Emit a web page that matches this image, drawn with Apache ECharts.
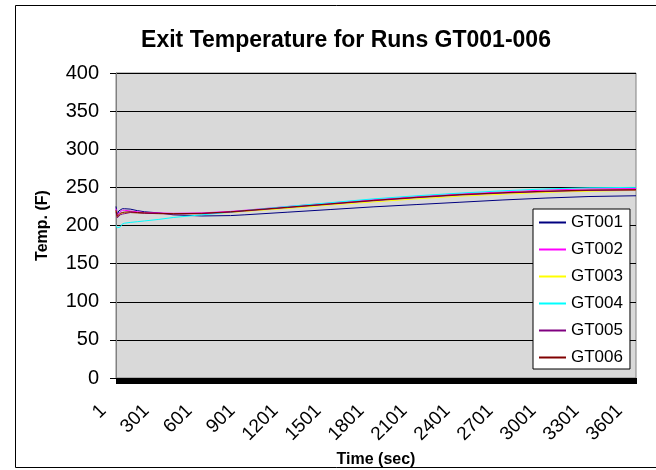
<!DOCTYPE html>
<html><head><meta charset="utf-8">
<script src="https://cdn.jsdelivr.net/npm/echarts/dist/echarts.min.js"></script>
<style>html,body{margin:0;padding:0;background:#fff}#c{width:656px;height:470px}</style>
</head><body><div id="c"></div>
<script>
// time axis: one category per second, 1 .. 3628
const lastSecond = 3628;
const categories = [];
for (let s = 1; s <= lastSecond; s++) categories.push(String(s));

const times = [1, 10, 20, 30, 45, 60, 100, 150, 200, 300, 400, 600, 800, 900, 1200, 1500, 1800, 2100, 2400, 2700, 3000, 3300, 3628];
const gt001 = [225, 214, 219, 221, 222, 222, 221.5, 219.5, 218, 216.5, 214, 212.5, 213, 214, 217.5, 221, 224.5, 227.5, 230.5, 233.5, 236, 238, 239];
const gt002 = [222, 213, 215, 218, 220, 220, 219, 218, 217, 216.5, 216, 216.5, 218.5, 220, 225, 229.5, 234, 238, 241.5, 244, 246.5, 248, 248.5];
const gt003 = [219, 211, 213, 215, 216, 216.5, 217, 216.5, 216, 215.5, 215.5, 215.5, 217, 218.5, 222.5, 227, 231, 235, 238.5, 241, 243.5, 245, 246];
const gt004 = [200, 197, 195.5, 198, 202, 203, 204, 205, 206, 208, 210.5, 214, 217.5, 219.5, 225, 230, 235, 239, 242.5, 245.5, 248, 249.5, 250];
const gt005 = [218, 210, 212, 214, 215, 215.5, 217, 216.5, 216, 215.5, 215, 215.5, 217.5, 219, 223.5, 228, 232.5, 236.5, 240, 242.5, 244.5, 246, 246.5];
const gt006 = [220, 212, 214, 216, 217, 217.5, 218, 217, 216.5, 216, 215.5, 216, 218, 219.5, 224, 228.5, 233, 237, 240.5, 243, 245, 246.5, 247];

const seriesNames = ['GT001', 'GT002', 'GT003', 'GT004', 'GT005', 'GT006'];
const seriesValues = [gt001, gt002, gt003, gt004, gt005, gt006];
const seriesColors = ['#000080', '#FF00FF', '#FFFF00', '#00FFFF', '#800080', '#800000'];

const FONT = '"Liberation Sans", Arial, sans-serif';
const chart = echarts.init(document.getElementById('c'), null, {renderer: 'canvas'});
chart.setOption({
  animation: false,
  backgroundColor: '#ffffff',
  title: {
    text: 'Exit Temperature for Runs GT001-006',
    left: 341, top: 24, textAlign: 'center',
    textStyle: {fontFamily: FONT, fontSize: 23, fontWeight: 'bold', color: '#000'}
  },
  graphic: [{
    type: 'rect', silent: true,
    shape: {x: 15.5, y: 5.5, width: 660, height: 462},
    style: {fill: 'none', stroke: '#000', lineWidth: 1}
  }],
  grid: {
    left: 116, top: 73, right: 20, bottom: 92,
    show: true, backgroundColor: '#D9D9D9', borderColor: '#808080', borderWidth: 1,
    containLabel: false, outerBoundsMode: 'none'
  },
  legend: {
    orient: 'vertical', left: 533, top: 209,
    padding: [5, 7, 3, 6], itemGap: 10, itemWidth: 27, itemHeight: 2,
    icon: 'rect',
    backgroundColor: '#fff', borderColor: '#000', borderWidth: 1, borderRadius: 0,
    textStyle: {fontFamily: FONT, fontSize: 17, color: '#000', lineHeight: 17},
    data: seriesNames
  },
  xAxis: {
    type: 'category', data: categories, boundaryGap: false,
    name: 'Time (sec)', nameLocation: 'middle', nameGap: 64,
    nameTextStyle: {fontFamily: FONT, fontSize: 16, fontWeight: 'bold', color: '#000'},
    axisLine: {show: true, lineStyle: {color: '#000', width: 1}},
    axisTick: {show: true, interval: 0, length: 6, lineStyle: {color: '#000', width: 1}},
    axisLabel: {interval: 299, rotate: 45, margin: 17, padding: [0, 18, 0, 0],
      fontFamily: FONT, fontSize: 19, color: '#000'},
    splitLine: {show: false}
  },
  yAxis: {
    type: 'value', min: 0, max: 400, interval: 50,
    name: 'Temp. (F)', nameLocation: 'middle', nameGap: 65, nameRotate: 90,
    nameTextStyle: {fontFamily: FONT, fontSize: 16, fontWeight: 'bold', color: '#000'},
    axisLine: {show: true, lineStyle: {color: '#808080', width: 1}},
    axisTick: {show: true, length: 6, lineStyle: {color: '#000', width: 1}},
    axisLabel: {margin: 17, fontFamily: FONT, fontSize: 20, color: '#000'},
    splitLine: {show: true, lineStyle: {color: '#000', width: 1}}
  },
  series: seriesNames.map((name, k) => ({
    name: name, type: 'line', symbol: 'none', showSymbol: false,
    color: seriesColors[k],
    itemStyle: {color: seriesColors[k]},
    lineStyle: {color: seriesColors[k], width: 1},
    data: times.map((t, i) => [String(t), seriesValues[k][i]])
  }))
});
</script>
</body></html>
